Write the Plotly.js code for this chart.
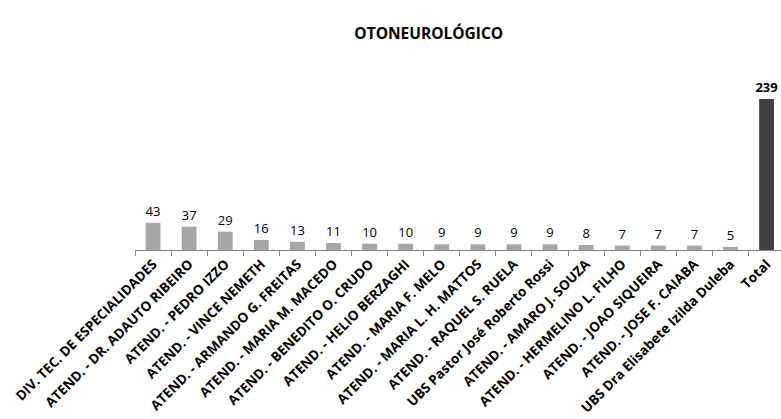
<!DOCTYPE html>
<html><head><meta charset="utf-8">
<script src="https://cdn.plot.ly/plotly-3.0.1.min.js"></script>
<style>body{margin:0;padding:0;background:#fff}#chart{width:781px;height:419px}</style>
</head><body><div id="chart"></div>
<script>
const categories = [
  "DIV. TEC. DE ESPECIALIDADES",
  "ATEND. - DR. ADAUTO RIBEIRO",
  "ATEND. - PEDRO IZZO",
  "ATEND. - VINCE NEMETH",
  "ATEND. - ARMANDO G. FREITAS",
  "ATEND. - MARIA M. MACEDO",
  "ATEND. - BENEDITO O. CRUDO",
  "ATEND. - HELIO BERZAGHI",
  "ATEND. - MARIA F. MELO",
  "ATEND. - MARIA L. H. MATTOS",
  "ATEND. - RAQUEL S. RUELA",
  "UBS Pastor José Roberto Rossi",
  "ATEND. - AMARO J. SOUZA",
  "ATEND. - HERMELINO L. FILHO",
  "ATEND. - JOAO SIQUEIRA",
  "ATEND. - JOSE F. CAIABA",
  "UBS Dra Elisabete Izilda Duleba",
  "Total"
];
const values = [43, 37, 29, 16, 13, 11, 10, 10, 9, 9, 9, 9, 8, 7, 7, 7, 5, 239];
const barColor = "#a6a6a6";
const totalColor = "#404040";

const last = values.length - 1;
const colors = values.map((v, i) => i === last ? totalColor : barColor);
const texts = values.map((v, i) => i === last ? "<b>" + v + "</b>" : String(v));

const trace = {
  type: "bar",
  x: categories,
  y: values,
  marker: {color: colors},
  width: 0.41,
  text: texts,
  textposition: "outside",
  constraintext: "none",
  cliponaxis: false,
  textfont: {family: "Open Sans, sans-serif", size: 13, color: "#000000"},
  hoverinfo: "x+y"
};

const layout = {
  width: 781, height: 419,
  margin: {l: 135, r: 0, t: 73, b: 169},
  paper_bgcolor: "#fff", plot_bgcolor: "#fff",
  showlegend: false,
  title: {
    text: "<b>OTONEUROLÓGICO</b>",
    font: {family: "Open Sans, sans-serif", size: 15.5, color: "#000"},
    x: 0.549, xanchor: "center", xref: "container",
    y: 0.92, yanchor: "middle"
  },
  xaxis: {
    type: "category",
    range: [-0.5, 17.4],
    tickangle: -45,
    tickfont: {family: "Open Sans, sans-serif", size: 13.5, color: "#000", weight: "bold"},
    showline: true, linecolor: "#868686", linewidth: 1,
    ticks: "outside", ticklen: 5, tickcolor: "#868686",
    tickson: "boundaries",
    showgrid: false, automargin: false
  },
  yaxis: {
    range: [0, 280],
    visible: false,
    showgrid: false, zeroline: false
  }
};

Plotly.newPlot("chart", [trace], layout, {displayModeBar: false, staticPlot: true});
</script>
</body></html>
